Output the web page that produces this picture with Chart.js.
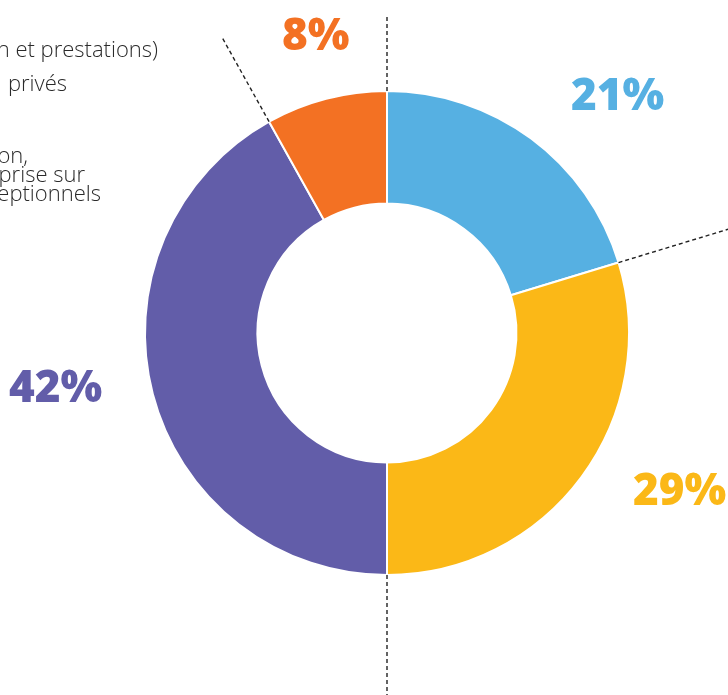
<!DOCTYPE html>
<html>
<head>
<meta charset="utf-8">
<script src="https://cdn.jsdelivr.net/npm/chart.js@4.4.1/dist/chart.umd.min.js"></script>
<style>
  html, body { margin: 0; padding: 0; background: #fff; }
  #wrap { width: 728px; height: 695px; overflow: hidden; }
</style>
</head>
<body>
<div id="wrap"><canvas id="donut" width="728" height="695"></canvas></div>
<script>
const shares = [20.3, 29.7, 41.9, 8.1];
const shareLabels = ['21%', '29%', '42%', '8%'];
const sliceColors = ['#56b0e2', '#fbb817', '#625da9', '#f37123'];

// bouts de légende visibles à gauche (coupés par le cadre)
const sideNotes = ['n et prestations)', 'privés', 'on,', 'prise sur', 'eptionnels'];

// position des étiquettes de pourcentage (gauche, ligne de base)
const labelSpots = [[571, 110], [633, 505], [9, 402], [282, 50]];
// fin de ligne (droite) et ligne de base des notes
const noteSpots = [[158, 57], [67, 91], [28, 163], [85, 182], [101, 201]];

// longueur des traits pointillés au-delà du bord extérieur, par frontière
const leaderLen = [76, 140, 120, 96];

let ctx = document.getElementById('donut');

const decorPlugin = {
  id: 'decor',
  afterDatasetsDraw(chart) {
    const c = chart.ctx;
    const arcs = chart.getDatasetMeta(0).data;
    c.save();
    // traits pointillés sur les frontières des parts
    c.strokeStyle = '#222';
    c.lineWidth = 1.4;
    c.setLineDash([4, 3]);
    arcs.forEach((arc, i) => {
      const a = arc.startAngle;
      const r0 = arc.outerRadius;
      const r1 = r0 + leaderLen[i];
      c.beginPath();
      c.moveTo(arc.x + Math.cos(a) * r0, arc.y + Math.sin(a) * r0);
      c.lineTo(arc.x + Math.cos(a) * r1, arc.y + Math.sin(a) * r1);
      c.stroke();
    });
    c.setLineDash([]);

    // pourcentages
    c.font = '800 44px "Open Sans", sans-serif';
    c.textAlign = 'left';
    c.textBaseline = 'alphabetic';
    shareLabels.forEach((t, i) => {
      c.fillStyle = sliceColors[i];
      c.fillText(t, labelSpots[i][0], labelSpots[i][1]);
    });

    // notes à gauche
    c.font = '300 22px "Open Sans", sans-serif';
    c.fillStyle = '#2a2a2a';
    c.textAlign = 'right';
    sideNotes.forEach((t, i) => {
      c.fillText(t, noteSpots[i][0], noteSpots[i][1]);
    });
    c.restore();
  }
};

let donutChart = new Chart(ctx, {
  type: 'doughnut',
  data: {
    labels: shareLabels,
    datasets: [{
      data: shares,
      backgroundColor: sliceColors,
      borderColor: '#fff',
      borderWidth: 2
    }]
  },
  options: {
    responsive: false,
    animation: false,
    cutout: '53.5%',
    layout: {
      padding: { left: 144, right: 98, top: 90, bottom: 119 }
    },
    plugins: {
      legend: { display: false },
      tooltip: { enabled: false }
    }
  },
  plugins: [decorPlugin]
});
</script>
</body>
</html>
